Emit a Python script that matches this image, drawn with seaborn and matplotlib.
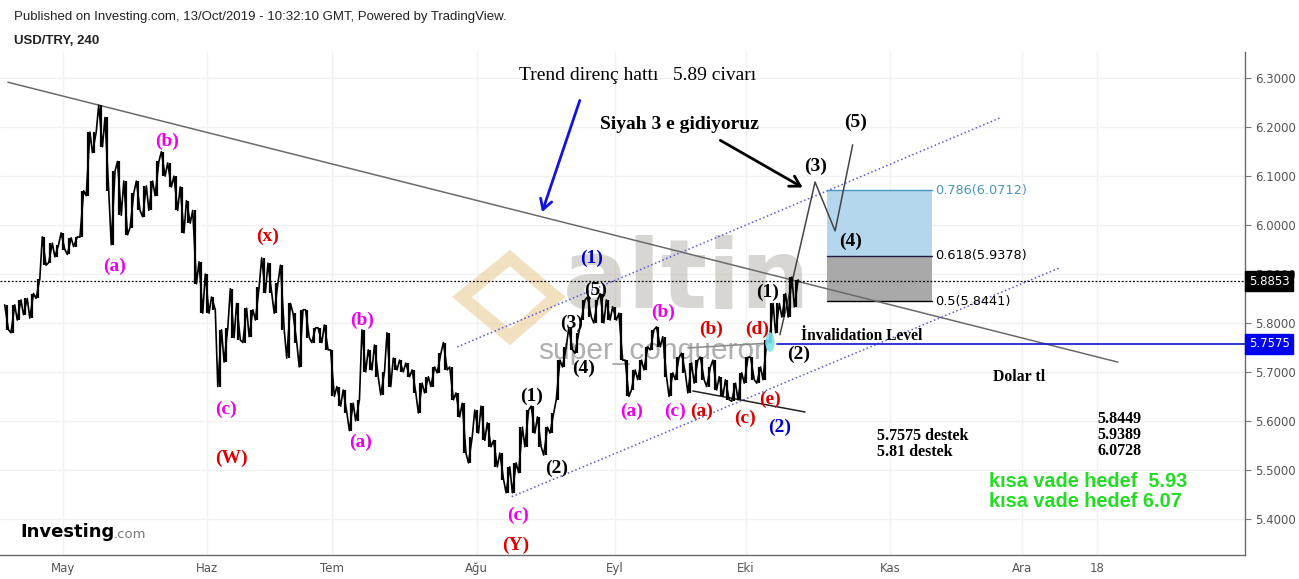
import matplotlib
matplotlib.use("Agg")
import matplotlib.pyplot as plt
import matplotlib.transforms as mtransforms
from matplotlib.patches import Rectangle, Ellipse, Polygon
import seaborn as sns
import pandas as pd
import numpy as np

day_high = [5.837, 5.837, 5.847, 5.850, 5.860, 5.890, 5.976, 5.963, 5.960, 5.984,
            5.974, 5.976, 6.070, 6.190, 6.190, 6.245, 6.220, 6.110, 6.130, 6.090,
            6.065, 6.090, 6.080, 6.090, 6.130, 6.150, 6.127, 6.100, 6.078, 6.050,
            6.030, 5.925, 5.900, 5.853, 5.786, 5.790, 5.870, 5.840, 5.830, 5.827,
            5.874, 5.933, 5.922, 5.882, 5.918, 5.840, 5.820, 5.827, 5.827, 5.790,
            5.790, 5.796, 5.745, 5.670, 5.663, 5.636, 5.643, 5.786, 5.745, 5.755,
            5.700, 5.780, 5.728, 5.724, 5.718, 5.704, 5.677, 5.690, 5.710, 5.738,
            5.760, 5.710, 5.657, 5.636, 5.567, 5.622, 5.630, 5.596, 5.560, 5.534,
            5.506, 5.514, 5.587, 5.622, 5.630, 5.608, 5.587, 5.616, 5.724, 5.751,
            5.790, 5.780, 5.847, 5.853, 5.847, 5.860, 5.847, 5.833, 5.820, 5.724,
            5.704, 5.724, 5.751, 5.786, 5.792, 5.772, 5.698, 5.730, 5.738, 5.718,
            5.724, 5.730, 5.710, 5.724, 5.690, 5.684, 5.677, 5.698, 5.730, 5.730,
            5.710, 5.765, 5.840, 5.840, 5.860, 5.894, 5.888]
day_low = [5.786, 5.780, 5.806, 5.817, 5.810, 5.850, 5.918, 5.923, 5.935, 5.950,
           5.940, 5.956, 5.975, 6.060, 6.148, 6.160, 6.070, 5.960, 6.020, 5.980,
           5.995, 6.030, 6.017, 6.030, 6.060, 6.100, 6.078, 6.030, 5.984, 6.004,
           5.880, 5.820, 5.820, 5.827, 5.670, 5.720, 5.770, 5.765, 5.760, 5.772,
           5.806, 5.862, 5.862, 5.820, 5.786, 5.728, 5.760, 5.710, 5.770, 5.760,
           5.760, 5.745, 5.650, 5.630, 5.616, 5.580, 5.600, 5.700, 5.704, 5.690,
           5.653, 5.670, 5.704, 5.700, 5.690, 5.657, 5.616, 5.657, 5.670, 5.698,
           5.704, 5.643, 5.608, 5.534, 5.514, 5.575, 5.560, 5.547, 5.506, 5.480,
           5.453, 5.453, 5.494, 5.547, 5.575, 5.547, 5.530, 5.575, 5.643, 5.710,
           5.745, 5.738, 5.806, 5.812, 5.800, 5.800, 5.806, 5.806, 5.724, 5.650,
           5.663, 5.684, 5.704, 5.745, 5.751, 5.690, 5.650, 5.684, 5.698, 5.657,
           5.677, 5.684, 5.670, 5.663, 5.650, 5.643, 5.640, 5.643, 5.677, 5.684,
           5.677, 5.684, 5.760, 5.780, 5.812, 5.812, 5.833]
last_price = 5.8853
invalidation = 5.7575
fib_ratios = ["0.5", "0.618", "0.786"]
fib_prices = [5.8441, 5.9378, 6.0712]
price_ticks = [5.4, 5.5, 5.6, 5.7, 5.8, 5.9, 6.0, 6.1, 6.2, 6.3]
month_days = ["2019-05-01", "2019-06-03", "2019-07-01", "2019-08-01", "2019-09-02",
              "2019-10-01", "2019-11-01", "2019-12-02", "2019-12-18"]
month_labels = ["May", "Haz", "Tem", "Ağu", "Eyl", "Eki", "Kas", "Ara", "18"]

# analyst drawings: (bar index, price)
trend_line = [(0.2, 6.292), (177.3, 5.720)]
channel_up = [(71.9, 5.751), (158.5, 6.219)]
channel_dn = [(80.6, 5.445), (168.1, 5.913)]
triangle_lo = [(109.5, 5.661), (127.4, 5.618)]
triangle_hi = [(108.7, 5.749), (121.8, 5.759)]
wave_path = [(123.4, 5.776), (129.0, 6.088), (132.2, 5.988), (135.0, 6.164)]

wave_labels = [
    ("(b)", "#ee00ee", 25.6, 6.172), ("(a)", "#ee00ee", 17.3, 5.916),
    ("(x)", "#dd0000", 41.7, 5.978), ("(c)", "#ee00ee", 35.0, 5.624),
    ("(W)", "#dd0000", 35.8, 5.524), ("(b)", "#ee00ee", 56.7, 5.806),
    ("(a)", "#ee00ee", 56.5, 5.555), ("(c)", "#ee00ee", 81.6, 5.406),
    ("(Y)", "#dd0000", 81.3, 5.346), ("(1)", "black", 83.7, 5.649),
    ("(2)", "black", 87.8, 5.502), ("(3)", "black", 90.2, 5.800),
    ("(4)", "black", 92.0, 5.708), ("(5)", "black", 93.9, 5.867),
    ("(1)", "#0000cc", 93.4, 5.933), ("(a)", "#ee00ee", 99.8, 5.620),
    ("(b)", "#ee00ee", 104.7, 5.822), ("(c)", "#ee00ee", 106.6, 5.620),
    ("(a)", "#dd0000", 110.9, 5.620), ("(b)", "#dd0000", 112.4, 5.786),
    ("(c)", "#dd0000", 117.8, 5.606), ("(d)", "#dd0000", 119.7, 5.786),
    ("(e)", "#dd0000", 121.8, 5.643), ("(2)", "#0000cc", 123.4, 5.587),
    ("(1)", "black", 121.5, 5.863), ("(2)", "black", 126.3, 5.735),
    ("(3)", "black", 129.0, 6.121), ("(4)", "black", 134.6, 5.967),
    ("(5)", "black", 135.5, 6.209),
]

sns.set_theme(style="white")
plt.rcParams["font.family"] = ["Liberation Sans", "DejaVu Sans"]
serif = ["Liberation Serif", "DejaVu Serif"]
narrow = ["Liberation Sans Narrow", "DejaVu Sans Condensed", "DejaVu Sans"]

fig = plt.figure(figsize=(12.99, 5.79), dpi=100)
ax = fig.add_axes([0, 24 / 579, 1245 / 1299, 503 / 579])

axis_days = pd.bdate_range("2019-04-18", "2020-01-22")
day_pos = {d: k for k, d in enumerate(axis_days)}

# zig-zag path through each day's high and low
xs, ys = [], []
for k in range(len(day_high)):
    mid = (day_high[k] + day_low[k]) / 2
    nxt = (day_high[k + 1] + day_low[k + 1]) / 2 if k + 1 < len(day_high) else last_price
    first, second = (day_low[k], day_high[k]) if nxt >= mid else (day_high[k], day_low[k])
    xs += [k - 0.3, k + 0.3]
    ys += [first, second]
xs.append(len(day_high) - 0.6)
ys.append(last_price)
path = pd.DataFrame({"bar": xs, "price": ys})
ax.vlines(range(len(day_high)), day_low, day_high, color="black", lw=1.6, zorder=4)
sns.lineplot(data=path, x="bar", y="price", color="black", lw=1.2, ax=ax,
             estimator=None, sort=False, zorder=4)

ax.set_xlim(-1.05, 197.6)
ax.set_ylim(5.3258, 6.3537)

# watermark
ax.text(108.6, 5.885, "altin", fontsize=70, fontweight="bold", color="#b3aea6",
        alpha=0.5, ha="center", va="center", zorder=1, family=["DejaVu Sans"])
ax.text(102.8, 5.742, "super_conqueror", fontsize=21.5, color="#6e6e6e", alpha=0.55,
        ha="center", va="center", zorder=1)
logo_px = [(510, 258), (556, 297), (510, 337), (462, 297)]
ax.add_patch(Polygon([((px - 6.6) / 6.268, 6.3 - (py - 78.3) / 489.3) for px, py in logo_px],
                     closed=True, fill=False, ec="#e6c98f", lw=9, alpha=0.55, zorder=1))

# fib box
ax.add_patch(Rectangle((130.9, fib_prices[1]), 16.7, fib_prices[2] - fib_prices[1],
                       fc="#b4d7ed", ec="none", zorder=1))
ax.add_patch(Rectangle((130.9, fib_prices[0]), 16.7, fib_prices[1] - fib_prices[0],
                       fc="#a9a9a9", ec="none", zorder=1))
fib_colors = ["black", "#1e1e3c", "#4a96bd"]
for r, p, c in zip(fib_ratios, fib_prices, fib_colors):
    ax.plot([130.9, 147.6], [p, p], color=c, lw=1, zorder=2)
    ax.text(148.2, p, f"{r}({p:.4f})", color=c if c != "#1e1e3c" else "black",
            fontsize=9.3, va="center", ha="left", family=["DejaVu Sans"], zorder=5)

# lines
for seg, col, ls in [(trend_line, "#6a6a6a", "-"), (channel_up, "#5a5ad6", ":"),
                     (channel_dn, "#5a5ad6", ":"), (triangle_lo, "#222222", "-"),
                     (triangle_hi, "#8a8a8a", "-")]:
    ax.plot([seg[0][0], seg[1][0]], [seg[0][1], seg[1][1]], color=col, ls=ls,
            lw=1.1, zorder=3)
ax.plot([w[0] for w in wave_path], [w[1] for w in wave_path], color="#444444",
        lw=1.1, zorder=3)
ax.axhline(last_price, color="black", ls=(0, (1.5, 1.5)), lw=0.9, zorder=3)
ax.plot([123.0, 197.6], [invalidation, invalidation], color="#1010d0", lw=1.2, zorder=3)
ax.add_patch(Ellipse((121.8, 5.761), 1.5, 0.04, fc="#7fe3ee", ec="none", alpha=0.9, zorder=5))

# arrows
ax.annotate("", xy=(85.3, 6.021), xytext=(91.6, 6.260),
            arrowprops=dict(arrowstyle="->,head_length=0.6,head_width=0.35",
                            color="#1414d8", lw=2), zorder=5)
ax.annotate("", xy=(127.4, 6.074), xytext=(113.5, 6.176),
            arrowprops=dict(arrowstyle="->,head_length=0.6,head_width=0.35",
                            color="black", lw=2), zorder=5)

for txt, col, x, y in wave_labels:
    ax.text(x, y, txt, color=col, fontsize=14, fontweight="bold", family=serif,
            ha="center", va="center", zorder=6)

ax.text(100.7, 6.305, "Trend direnç hattı   5.89 civarı", fontsize=14, family=serif,
        ha="center", va="center", color="black", zorder=6)
ax.text(107.4, 6.206, "Siyah 3 e gidiyoruz", fontsize=14, fontweight="bold",
        family=serif, ha="center", va="center", color="black", zorder=6)
ax.text(126.7, 5.774, "İnvalidation Level", fontsize=11.2, fontweight="bold",
        family=serif, ha="left", va="center", color="black", zorder=6)
ax.text(161.5, 5.690, "Dolar tl", fontsize=11.3, fontweight="bold", family=serif,
        ha="center", va="center", color="black")
for k, t in enumerate(["5.8449", "5.9389", "6.0728"]):
    ax.text(174.0, 5.604 - k * 0.0325, t, fontsize=11.5, fontweight="bold",
            family=serif, ha="left", va="center", color="black")
ax.text(138.9, 5.569, "5.7575 destek", fontsize=11.5, fontweight="bold",
        family=serif, ha="left", va="center", color="black")
ax.text(138.9, 5.537, "5.81 destek", fontsize=11.5, fontweight="bold",
        family=serif, ha="left", va="center", color="black")
ax.text(156.7, 5.477, "kısa vade hedef  5.93", fontsize=14.3, fontweight="bold",
        ha="left", va="center", color="#22dd22")
ax.text(156.7, 5.436, "kısa vade hedef 6.07", fontsize=14.3, fontweight="bold",
        ha="left", va="center", color="#22dd22")

# axes styling
ax.yaxis.tick_right()
ax.set_yticks(price_ticks)
ax.set_yticklabels([f"{p:.4f}" for p in price_ticks], family=narrow)
ax.set_xticks([day_pos[pd.Timestamp(d)] for d in month_days])
ax.set_xticklabels(month_labels, family=narrow)
ax.tick_params(axis="y", length=4, width=0.8, color="#777777", labelcolor="#555555",
               labelsize=8.5, pad=3, right=True)
ax.tick_params(axis="x", length=0, labelcolor="#555555", labelsize=8.5, pad=5)
ax.grid(True, color="#f1f1f1", lw=1)
ax.set_axisbelow(True)
for s in ["top", "left"]:
    ax.spines[s].set_visible(False)
for s in ["right", "bottom"]:
    ax.spines[s].set_color("#6a6a6a")
    ax.spines[s].set_linewidth(1)
ax.set_xlabel("")
ax.set_ylabel("")

blend = mtransforms.blended_transform_factory(ax.transAxes, ax.transData)
ax.text(1.003, last_price, f"{last_price:.4f}", transform=blend, color="white",
        fontsize=8.5, family=narrow, ha="left", va="center", clip_on=False, zorder=7,
        bbox=dict(boxstyle="square,pad=0.3", fc="black", ec="black"))
ax.text(1.003, invalidation, f"{invalidation:.4f}", transform=blend, color="white",
        fontsize=8.5, family=narrow, ha="left", va="center", clip_on=False, zorder=7,
        bbox=dict(boxstyle="square,pad=0.3", fc="#0000f0", ec="#0000f0"))

# header and logo
fig.text(14 / 1299, 1 - 17 / 579,
         "Published on Investing.com, 13/Oct/2019 - 10:32:10 GMT, Powered by TradingView.",
         fontsize=9.5, color="#222222", va="center", ha="left")
fig.text(14 / 1299, 1 - 41 / 579, "USD/TRY, 240", fontsize=9.5, fontweight="bold",
         color="#222222", va="center", ha="left")
fig.text(20 / 1299, 1 - 532 / 579, "Investing", fontsize=13, fontweight="bold",
         family=narrow, color="black", va="center", ha="left")
fig.text(114 / 1299, 1 - 534 / 579, ".com", fontsize=9.5, family=narrow,
         color="#777777", va="center", ha="left")

fig.savefig("out.png", dpi=100)
